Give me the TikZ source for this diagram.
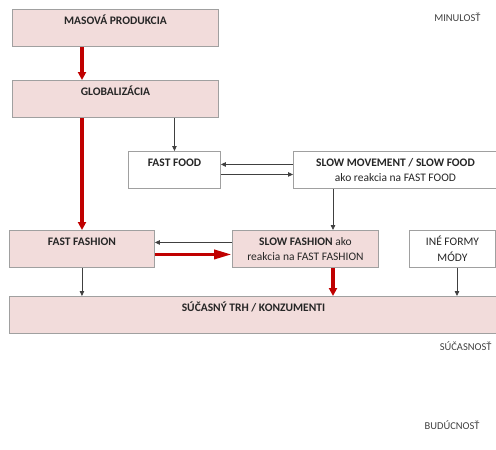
\documentclass[tikz,border=0pt]{standalone}
\usepackage{fontspec}
\setmainfont{Carlito}
\usetikzlibrary{arrows.meta}
\definecolor{boxpink}{HTML}{F2DCDB}
\definecolor{boxline}{HTML}{A0A0A0}
\definecolor{arrred}{HTML}{C00000}
\definecolor{txtgray}{HTML}{404040}
\begin{document}
\begin{tikzpicture}[x=1pt, y=-1pt,
  box/.style={rectangle, draw=boxline, line width=0.9pt, fill=#1, anchor=north west,
              inner xsep=0pt, minimum height=37pt, align=center, text=black!85,
              font=\fontsize{11.5}{15.5}\selectfont},
  box/.default={boxpink},
  topbox/.style={box=#1, inner ysep=0pt, text height=15.5pt, text depth=21.5pt},
  topbox/.default={boxpink},
  thinarr/.style={-{Triangle[length=5pt, width=4.5pt]}, line width=0.8pt, black!75},
  redarr/.style={-{Triangle[length=8pt, width=8pt]}, line width=3.6pt, arrred},
  longhead/.style={-{Triangle[length=18pt, width=9pt]}},
  when/.style={anchor=east, text=txtgray, font=\fontsize{10.5}{12}\selectfont}
]
  \useasboundingbox (0,0) rectangle (496,450);

  % Columns of the vertical connectors
  \coordinate (leftcol) at (82,0);
  \coordinate (midcol) at (333,0);
  \coordinate (inecol) at (457,0);

  % Top
  \node[topbox, minimum width=206pt] (mp) at (12,9) {\bfseries MASOVÁ PRODUKCIA};
  \node[topbox, minimum width=206pt] (glob) at (12,80) {\bfseries GLOBALIZÁCIA};
  \draw[redarr] (mp.south -| leftcol) -- (glob.north -| leftcol);

  % Food
  \node[topbox=white, minimum width=92pt] (ff) at (128,151) {\bfseries FAST FOOD};
  \node[box=white, minimum width=204pt] (sm) at (293,151)
    {\bfseries SLOW MOVEMENT / SLOW FOOD\\ako reakcia na FAST FOOD};
  \draw[thinarr] (glob.south -| ff.north) -- (ff.north);
  \draw[thinarr] ([yshift=5.5pt]sm.west) -- ([yshift=5.5pt]ff.east);
  \draw[thinarr] ([yshift=-4.5pt]ff.east) -- ([yshift=-4.5pt]sm.west);

  % Fashion
  \node[topbox, minimum width=145pt] (fas) at (9,230) {\bfseries FAST FASHION};
  \node[box, minimum width=146pt] (sf) at (232,230)
    {\textbf{SLOW FASHION} ako\\reakcia na FAST FASHION};
  \node[box=white, minimum width=86pt] (ine) at (409,230) {INÉ FORMY\\MÓDY};
  \draw[redarr] (glob.south -| leftcol) -- (fas.north -| leftcol);
  \draw[thinarr] (sm.south -| midcol) -- (sf.north -| midcol);
  \draw[thinarr] ([yshift=6.5pt]sf.west) -- ([yshift=6.5pt]fas.east);
  \draw[redarr, longhead] ([yshift=-5.5pt]fas.east) -- ([yshift=-5.5pt]sf.west);

  % Market
  \node[topbox, minimum width=488pt] (trh) at (9,296) {\bfseries SÚČASNÝ TRH / KONZUMENTI};
  \draw[thinarr] (fas.south) -- (trh.north -| fas.south);
  \draw[redarr] (sf.south -| midcol) -- (trh.north -| midcol);
  \draw[thinarr] (ine.south -| inecol) -- (trh.north -| inecol);

  % Time axis
  \node[when] (past) at (484,17) {MINULOSŤ};
  \node[when] (now) at (495,346) {SÚČASNOSŤ};
  \node[when] (future) at (483,425) {BUDÚCNOSŤ};
\end{tikzpicture}
\end{document}
